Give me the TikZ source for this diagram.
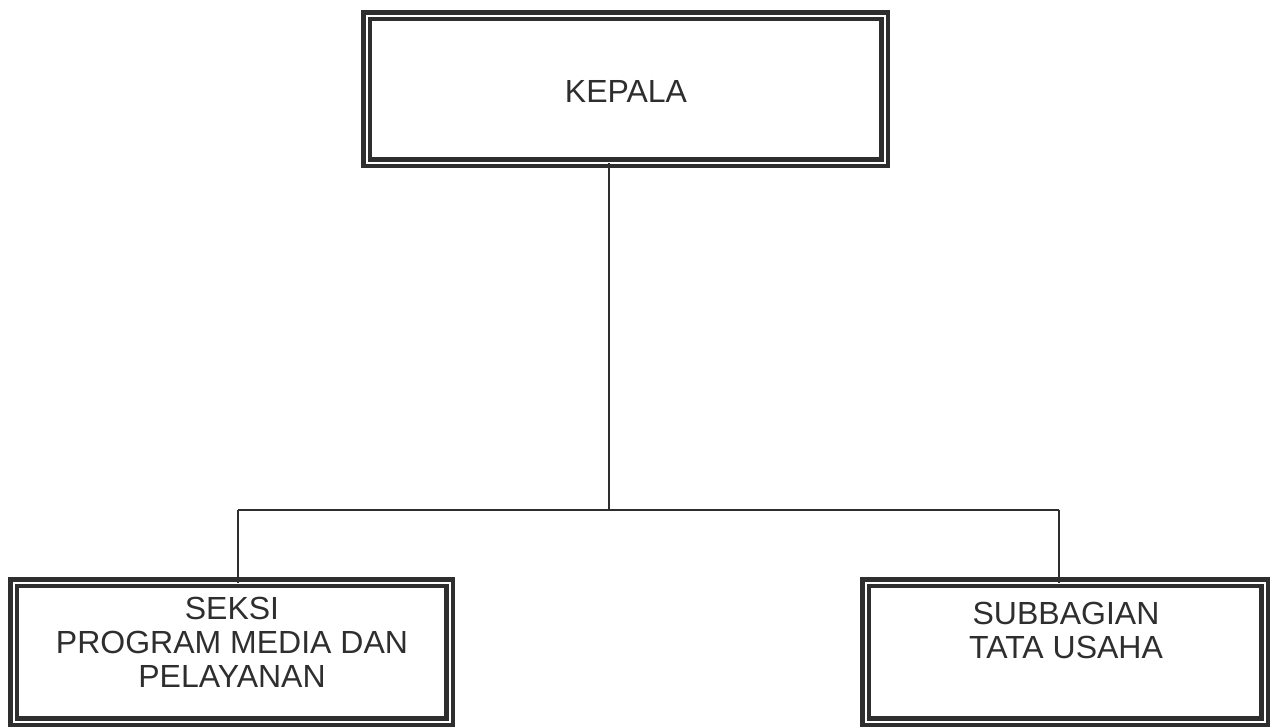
\documentclass[tikz,border=0pt]{standalone}
\usepackage{fontspec}
\setmainfont{Liberation Sans}
\definecolor{ink}{HTML}{2E2E2E}
\begin{document}
\begin{tikzpicture}[x=1pt,y=-1pt,
  orgbox/.style={draw=ink, double=white, line width=4.5pt, double distance=2pt, fill=white, inner sep=0pt, outer sep=0pt},
  lbl/.style={text=ink, align=center, font=\fontsize{32}{34}\selectfont, inner sep=0pt},
  conn/.style={draw=ink, line width=1.8pt}]
\useasboundingbox (0,0) rectangle (1272,728);
\fill[white] (0,0) rectangle (1272,728);
% connectors
\coordinate (j) at (609,510);
\coordinate (jl) at (238,510);
\coordinate (jr) at (1059,510);
\node[orgbox, minimum width=518pt, minimum height=147pt] (kepala) at (625.5,89) {};
\node[orgbox, minimum width=436pt, minimum height=139pt] (seksi) at (231.5,652) {};
\node[orgbox, minimum width=399pt, minimum height=139pt] (subbag) at (1065,652) {};
\draw[conn] (j |- kepala.south) -- (j);
\draw[conn] (jl) -- (jr);
\draw[conn] (jl) -- (jl |- seksi.north);
\draw[conn] (jr) -- (jr |- subbag.north);
% labels
\node[lbl] (tk) at (626,91) {KEPALA};
\node[lbl] (ts) at (232,642) {SEKSI\\PROGRAM MEDIA DAN\\PELAYANAN};
\node[lbl] (tu) at (1066,630) {SUBBAGIAN\\TATA USAHA};
\end{tikzpicture}
\end{document}
